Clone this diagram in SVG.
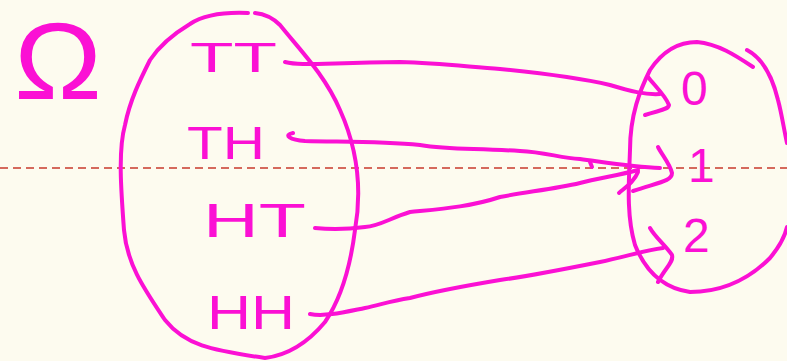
<svg xmlns="http://www.w3.org/2000/svg" width="787" height="361" viewBox="0 0 787 361">
<style>
.ink{fill:none;stroke:#fb10d4;stroke-width:4;stroke-linecap:round;stroke-linejoin:round}
.lbl{fill:#fb10d4;font-family:"Liberation Sans",Arial,sans-serif;font-size:42px}
.num{font-size:48px}
.guide{stroke:#c83a2c;stroke-width:1.6;stroke-dasharray:8 5}
</style>
<rect width="787" height="361" fill="#fdfbef"/>
<line class="guide" x1="0" y1="168" x2="787" y2="168"/>
<g id="omega">
<text transform="translate(14,99) scale(1,1.1)" class="lbl" style="font-size:100px" textLength="88" lengthAdjust="spacingAndGlyphs">Ω</text>
</g>
<g id="set-outcomes">
<path class="ink" d="M248,13 C225,12 205,14 190,24 C170,36 158,48 150,60 C140,80 130,100 125,125 C118,150 121,190 124,230 C127,265 145,290 165,320 C185,345 210,350 265,358 C290,355 310,340 325,322 C340,300 350,270 355,230 C362,190 358,150 340,110 C325,75 300,50 280,25 C272,17 265,14 255,13"/>
</g>
<g id="node-TT"><text x="190" y="72" class="lbl" textLength="87" lengthAdjust="spacingAndGlyphs">TT</text></g>
<g id="node-TH"><text x="187" y="159" class="lbl" style="font-size:46px" textLength="78" lengthAdjust="spacingAndGlyphs">TH</text></g>
<g id="node-HT"><text x="203" y="237" class="lbl" style="font-size:48px" textLength="103" lengthAdjust="spacingAndGlyphs">HT</text></g>
<g id="node-HH"><text x="207" y="329" class="lbl" style="font-size:48px" textLength="88" lengthAdjust="spacingAndGlyphs">HH</text></g>
<g id="set-values">
<path class="ink" d="M753,67 C735,55 718,44 697,42 C675,42 660,55 650,70 C640,90 630,115 630,150 C629,180 626,215 635,245 C645,270 662,288 690,292 C720,292 748,280 770,258 C780,246 785,236 787,227"/>
<path class="ink" d="M747,50 C762,58 772,75 778,100 C782,115 784,130 787,143"/>
</g>
<g id="node-0"><text x="681" y="105" class="lbl num">0</text></g>
<g id="node-1"><text x="688" y="182" class="lbl num">1</text></g>
<g id="node-2"><text x="683" y="252" class="lbl num">2</text></g>
<g id="connectors">
<path class="ink" d="M285,62 C300,66 320,63 400,62 C440,63 470,67 500,69 C540,73 580,78 610,85 C630,91 645,95 660,94"/>
<path class="ink" d="M648,77 C655,86 665,95 669,105 C668,110 660,110 645,115"/>
<path class="ink" d="M293,133 C283,135 290,140 305,141 C340,142 380,141 420,145 C450,150 470,148 520,151 C545,152 560,158 580,159 C610,163 635,167 660,168"/>
<path class="ink" d="M658,147 C662,155 670,164 672,173 C672,181 660,182 633,191"/>
<path class="ink" d="M315,228 C335,230 350,229 365,227 C380,226 390,218 410,212 C440,209 470,207 500,197 C525,192 555,189 580,183 C600,178 620,175 638,170"/>
<path class="ink" d="M619,193 C626,187 634,182 638,172"/>
<path class="ink" d="M590,162 L592,167"/>
<path class="ink" d="M310,314 C325,317 345,312 365,308 C380,305 390,301 410,298 C440,290 470,285 500,280 C530,276 560,270 600,262 C625,257 645,250 663,248"/>
<path class="ink" d="M650,228 C655,237 665,245 672,255 C674,262 665,268 658,282"/>
</g>
</svg>
